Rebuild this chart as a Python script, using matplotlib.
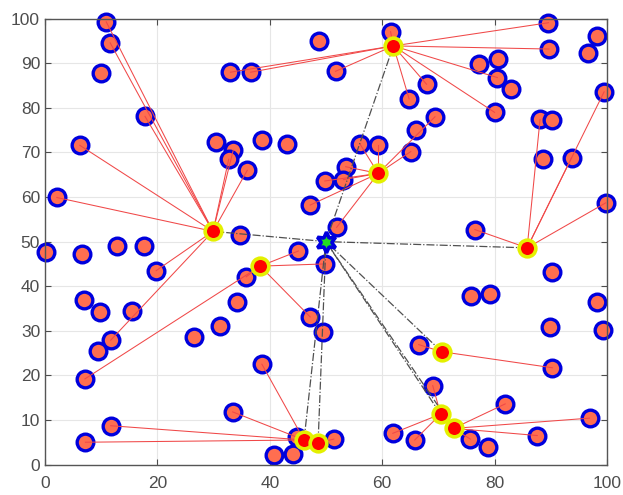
import numpy as np
import matplotlib
matplotlib.use('Agg')
import matplotlib.pyplot as plt

# sensorski vozli (x, y) in indeks glave gruce (-1 = brez povezave)
node_x = [10.9, 11.6, 10.0, 17.8, 6.2, 2.1, 33.0, 36.6, 30.4, 33.5, 32.7, 36.0, 38.7, 43.1,
          48.8, 51.7, 61.5, 67.9, 64.8, 66.1, 69.4, 56.0, 59.3, 65.1, 53.5, 53.1, 49.8, 47.2,
          51.9, 34.7, 77.2, 80.6, 80.5, 82.9, 80.0, 89.6, 89.7, 98.2, 96.7, 99.5, 88.1, 90.3,
          88.7, 93.7, 99.8, 76.5, 0.2, 6.6, 12.9, 17.7, 19.8, 7.0, 9.8, 15.5, 11.7, 9.4,
          7.1, 26.5, 31.1, 34.1, 35.8, 45.1, 49.9, 47.2, 49.5, 38.6, 33.4, 11.7, 7.2, 44.8,
          40.8, 44.2, 51.4, 61.9, 65.8, 69.0, 66.5, 90.3, 81.9, 96.9, 87.6, 75.7, 78.9, 90.3,
          75.9, 79.2, 98.3, 99.3, 89.9]
node_y = [99.3, 94.6, 87.9, 78.1, 71.6, 59.9, 88.0, 88.0, 72.4, 70.5, 68.5, 66.0, 72.9, 71.9,
          94.9, 88.2, 97.1, 85.3, 82.0, 75.0, 78.0, 72.0, 71.6, 70.2, 66.8, 63.9, 63.6, 58.2,
          53.2, 51.5, 89.8, 91.0, 86.8, 84.3, 79.0, 99.1, 93.2, 96.1, 92.3, 83.6, 77.4, 77.2,
          68.5, 68.8, 58.7, 52.7, 47.6, 47.3, 49.1, 49.1, 43.5, 36.9, 34.3, 34.4, 27.9, 25.5,
          19.2, 28.7, 31.1, 36.5, 42.1, 47.9, 45.0, 33.1, 29.8, 22.5, 11.8, 8.7, 5.0, 6.2,
          2.1, 2.4, 5.7, 7.0, 5.5, 17.7, 26.9, 21.7, 13.6, 10.4, 6.5, 5.7, 4.0, 43.1,
          37.8, 38.2, 36.4, 30.2, 30.9]
member_of = [0, 0, -1, 0, 0, 0, 1, 1, -1, 0, 0, 0, -1, -1,
             -1, 1, 1, 1, 1, -1, 2, 2, 2, 2, 2, 2, 2, 2,
             2, -1, -1, -1, 1, -1, 1, 1, 1, -1, -1, 4, 4, -1,
             -1, 4, 4, 4, -1, -1, -1, -1, 0, -1, -1, -1, 0, -1,
             3, -1, -1, -1, 3, 3, 3, 3, -1, 8, 8, 8, 8, 8,
             -1, -1, 9, 6, 6, 6, 5, 5, 7, 7, 7, 7, -1, -1,
             -1, -1, -1, -1, -1]

# glave gruc
ch_x = [29.9, 62.0, 59.3, 38.3, 85.8, 70.6, 70.4, 72.7, 46.1, 48.6]
ch_y = [52.3, 93.9, 65.3, 44.5, 48.6, 25.3, 11.3, 8.1, 5.5, 4.9]
ch_to_bs = [0, 1, 4, 5, 6, 7, 8, 9]  # glave, ki posiljajo bazni postaji

# bazna postaja
bs_x, bs_y = 50.0, 50.0

fig = plt.figure(figsize=(6.23, 4.95), dpi=100)
ax = fig.add_axes([0.0722, 0.0616, 0.902, 0.9006])

ax.plot(node_x, node_y, 'o', ms=12, mfc='#FF6E50', mec='#0000DD', mew=2.4,
        clip_on=False, zorder=2)

for i, c in enumerate(member_of):
    if c >= 0:
        ax.plot([node_x[i], ch_x[c]], [node_y[i], ch_y[c]], '-', color='#F04848',
                lw=0.75, zorder=3)

for c in ch_to_bs:
    ax.plot([ch_x[c], bs_x], [ch_y[c], bs_y], '-.', color='#505050', lw=0.9, zorder=3)

ax.plot(ch_x, ch_y, 'o', ms=12, mfc='#FF0000', mec='#E4F000', mew=2.6,
        clip_on=False, zorder=4)
ax.plot(bs_x, bs_y, marker=(6, 1, 0), ms=15, mfc='#22DD22', mec='#0000DD', mew=2.6,
        clip_on=False, zorder=5)

ax.set_xlim(0, 100)
ax.set_ylim(0, 100)
ax.set_xticks(np.arange(0, 101, 20))
ax.set_yticks(np.arange(0, 101, 10))
ax.grid(True, color='#E6E6E6', lw=0.8)
ax.set_axisbelow(True)
ax.tick_params(direction='in', top=True, right=True, labelsize=12.5, colors='#4D4D4D',
               length=4)
ax.tick_params(axis='x', pad=8)
for s in ax.spines.values():
    s.set_color('#555555')
    s.set_linewidth(1)
for lab in ax.get_xticklabels() + ax.get_yticklabels():
    lab.set_family('Liberation Sans')

fig.savefig('out.png', dpi=100)
